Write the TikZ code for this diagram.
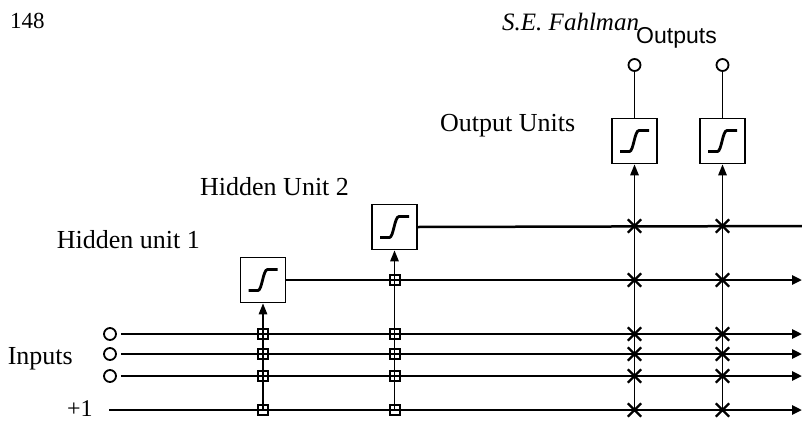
\documentclass[tikz,border=0pt]{standalone}
\usepackage{fontspec}
\setmainfont{Liberation Serif}
\newfontfamily\labsans{Liberation Sans}
\usetikzlibrary{arrows.meta,shapes.misc}

\newcommand\sigmoidmark[1]{%
  \begin{scope}[shift={(#1.center)}]
    \draw[line width=2.8pt] (-14.5,10.5) -- (-5,10.5)
      .. controls (-1,10.5) and (0,-10.5) .. (4.5,-10.5) -- (14.5,-10.5);
  \end{scope}}

\begin{document}
\begin{tikzpicture}[x=1pt,y=-1pt,
  hline/.style={line width=2.5pt},
  vline/.style={line width=1.5pt},
  unitbox/.style={draw, line width=1.8pt, minimum width=45pt, minimum height=45pt, inner sep=0pt},
  iocirc/.style={draw, circle, line width=1.8pt, minimum size=12pt, inner sep=0pt},
  sqmark/.style={draw, line width=2pt, minimum size=10pt, inner sep=0pt},
  xmark/.style={draw, cross out, line width=2.3pt, minimum size=11pt, inner sep=0pt},
  lab/.style={inner sep=0pt, font=\fontsize{26}{28}\selectfont},
  tipend/.style={-{Triangle[length=10pt,width=9pt]}},
  tipup/.style={-{Triangle[length=11pt,width=8.5pt]}}
]
\useasboundingbox (0,0) rectangle (802,423);

% texts
\node[inner sep=0pt, anchor=base west, font=\fontsize{23}{25}\selectfont] (pg) at (10,28) {148};
\node[inner sep=0pt, anchor=base west, font=\fontsize{25}{27}\selectfont\itshape] (auth) at (502,30) {S.E. Fahlman};
\node[inner sep=0pt, anchor=base west, font=\fontsize{23}{25}\selectfont\labsans] (outl) at (636,43) {Outputs};
\node[lab, anchor=base west] (oul) at (440,131) {Output Units};
\node[lab, anchor=base west] (h2l) at (200,195) {Hidden Unit 2};
\node[lab, anchor=base east] (h1l) at (200,248) {Hidden unit 1};
\node[lab, anchor=base east] (inl) at (73,364) {Inputs};
\node[inner sep=0pt, anchor=base west, font=\fontsize{24}{26}\selectfont] (one) at (67,416) {+1};

% units
\node[unitbox] (h1) at (263,280) {};
\node[unitbox] (h2) at (394.5,227) {};
\node[unitbox] (o1) at (634.5,141) {};
\node[unitbox] (o2) at (722.5,141) {};
\sigmoidmark{h1}
\sigmoidmark{h2}
\sigmoidmark{o1}
\sigmoidmark{o2}

% input / output circles
\node[iocirc] (i1) at (110,334) {};
\node[iocirc] (i2) at (110,354) {};
\node[iocirc] (i3) at (110,376) {};
\node[iocirc] (c1) at (634.5,65) {};
\node[iocirc] (c2) at (722.5,65) {};
\coordinate (p0) at (109,410);

% right ends
\coordinate (eh2) at (802,226);
\coordinate (eh1) at (802,280);
\coordinate (e1) at (802,334);
\coordinate (e2) at (802,354);
\coordinate (e3) at (802,376);
\coordinate (ep) at (802,410);

% column bottoms
\coordinate (b1) at (263,410);
\coordinate (b2) at (394.5,410);
\coordinate (b3) at (634.5,410);
\coordinate (b4) at (722.5,410);

% horizontal lines
\draw[hline] (h2.east) -- (eh2);
\draw[hline,tipend] (h1.east) -- (eh1);
\draw[hline,tipend,shorten <=4pt] (i1.east) -- (e1);
\draw[hline,tipend,shorten <=4pt] (i2.east) -- (e2);
\draw[hline,tipend,shorten <=4pt] (i3.east) -- (e3);
\draw[hline,tipend] (p0) -- (ep);

% vertical lines
\draw[vline,tipup] (b1) -- (h1.south);
\draw[vline,tipup] (b2) -- (h2.south);
\draw[vline,tipup] (b3) -- (o1.south);
\draw[vline,tipup] (b4) -- (o2.south);
\draw[vline] (o1.north) -- (c1.south);
\draw[vline] (o2.north) -- (c2.south);

% square connection marks
\foreach \n/\x/\y in {a1/263/334, a2/263/354, a3/263/376, a4/263/410,
                      b5/394.5/280, b6/394.5/334, b7/394.5/354, b8/394.5/376, b9/394.5/410}
  \node[sqmark] (s\n) at (\x,\y) {};

% cross connection marks
\foreach \n/\x in {p/634.5, q/722.5}
  \foreach \m/\y in {1/226, 2/280, 3/334, 4/354, 5/376, 6/410}
    \node[xmark] (x\n\m) at (\x,\y) {};
\end{tikzpicture}
\end{document}
